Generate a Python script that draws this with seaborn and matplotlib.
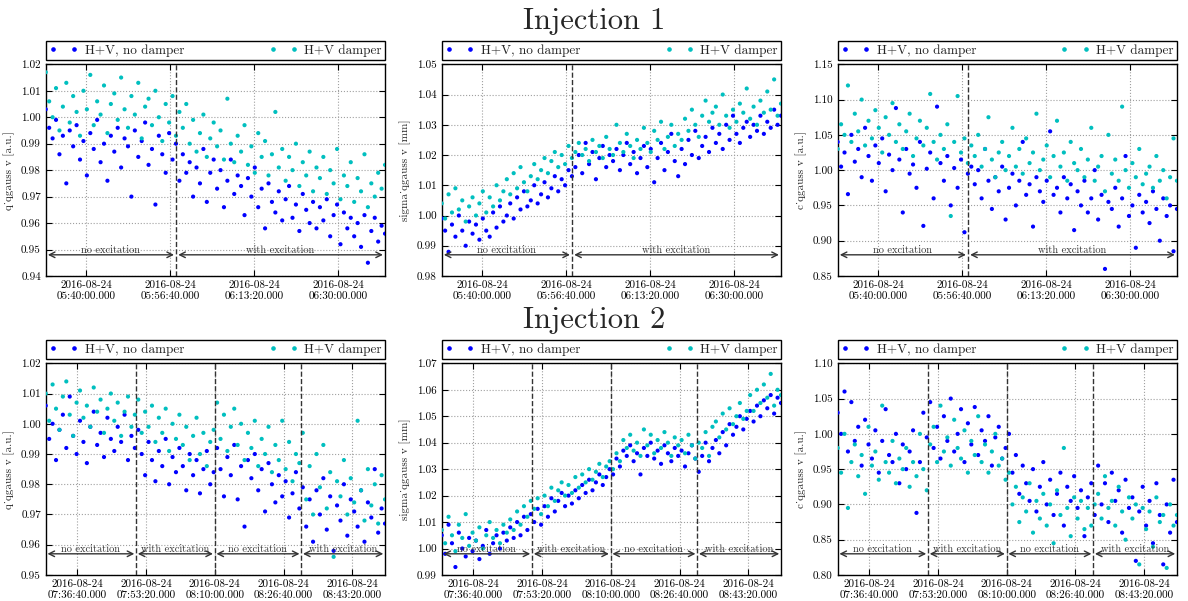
import numpy as np
import pandas as pd
import matplotlib
matplotlib.use("Agg")
import matplotlib.pyplot as plt
import matplotlib.dates as mdates
from matplotlib.lines import Line2D
import seaborn as sns

# ---------------------------------------------------------------------------
# Data: fitted q-Gaussian parameters of the vertical profile (values in 1e-3)
# ---------------------------------------------------------------------------
LABEL_ND = "H+V, no damper"
LABEL_D = "H+V damper"

inj1_start, inj1_end = "2016-08-24 05:32:01", "2016-08-24 06:39:15"
inj2_start, inj2_end = "2016-08-24 07:29:00", "2016-08-24 08:51:16"

inj1_ticks = ["2016-08-24 05:40:00", "2016-08-24 05:56:40",
              "2016-08-24 06:13:20", "2016-08-24 06:30:00"]
inj2_ticks = ["2016-08-24 07:36:40", "2016-08-24 07:53:20", "2016-08-24 08:10:00",
              "2016-08-24 08:26:40", "2016-08-24 08:43:20"]

inj1_switch = ["2016-08-24 05:57:51"]
inj2_switch = ["2016-08-24 07:50:54", "2016-08-24 08:09:58", "2016-08-24 08:30:57"]
inj1_phases = ["no excitation", "with excitation"]
inj2_phases = ["no excitation", "with excitation", "no excitation", "with excitation"]

q1_nodamp = [1003, 996, 992, 999, 986, 993, 975, 995, 989, 997,
             984, 991, 978, 994, 988, 999, 983, 990, 976, 993,
             987, 996, 981, 992, 989, 970, 995, 985, 991, 998,
             982, 988, 967, 993, 986, 979, 994, 984, 990, 976,
             986, 979, 983, 970, 981, 975, 988, 968, 979, 984,
             973, 980, 966, 976, 984, 971, 978, 974, 963, 977,
             970, 981, 966, 973, 958, 975, 968, 964, 972, 961,
             969, 974, 962, 967, 957, 971, 965, 960, 968, 958,
             966, 961, 969, 955, 963, 967, 952, 964, 958, 962,
             955, 960, 951, 963, 945, 957, 962, 953, 959, 956]
q1_damp = [1017, 1006, 1000, 1011, 995, 1004, 1013, 998, 1008, 1002,
           993, 1010, 1003, 1016, 997, 1006, 1001, 1012, 994, 1005,
           1009, 999, 1015, 1003, 996, 1008, 1001, 1013, 992, 1004,
           1007, 997, 1010, 1000, 991, 1005, 998, 1008, 993, 1002,
           996, 1005, 990, 999, 987, 994, 1001, 985, 992, 998,
           989, 995, 984, 1007, 990, 983, 993, 987, 997, 982,
           989, 979, 994, 985, 991, 978, 986, 1002, 981, 988,
           976, 985, 980, 990, 974, 983, 978, 987, 972, 981,
           977, 985, 971, 980, 975, 988, 969, 978, 974, 983,
           968, 977, 972, 986, 966, 975, 970, 979, 973, 982]

s1_nodamp = [999, 995, 988, 997, 993, 1000, 995, 990, 998, 994,
             997, 992, 999, 995, 993, 1001, 996, 1003, 998, 1000,
             1004, 999, 1006, 1002, 1008, 1003, 1005, 1010, 1004, 1007,
             1011, 1006, 1009, 1013, 1008, 1012, 1010, 1015, 1013, 1016,
             1020, 1014, 1024, 1017, 1021, 1012, 1019, 1023, 1016, 1020,
             1018, 1022, 1015, 1020, 1024, 1017, 1021, 1014, 1019, 1023,
             1016, 1022, 1011, 1019, 1024, 1015, 1021, 1027, 1018, 1013,
             1022, 1017, 1025, 1020, 1028, 1019, 1023, 1026, 1021, 1029,
             1024, 1027, 1022, 1030, 1025, 1033, 1027, 1024, 1029, 1031,
             1026, 1030, 1028, 1033, 1027, 1031, 1029, 1035, 1030, 1033]
s1_damp = [1004, 999, 1007, 1001, 1009, 1002, 1005, 998, 1003, 1006,
           1000, 1004, 1008, 1001, 1006, 1003, 1010, 1005, 1008, 1012,
           1007, 1014, 1009, 1016, 1011, 1008, 1013, 1017, 1012, 1015,
           1019, 1014, 1018, 1021, 1016, 1020, 1017, 1023, 1019, 1021,
           1024, 1020, 1022, 1018, 1025, 1021, 1023, 1019, 1026, 1022,
           1020, 1030, 1024, 1021, 1027, 1023, 1019, 1025, 1022, 1029,
           1024, 1021, 1028, 1025, 1031, 1022, 1026, 1030, 1023, 1027,
           1025, 1032, 1028, 1035, 1030, 1026, 1033, 1038, 1031, 1034,
           1036, 1030, 1040, 1033, 1029, 1035, 1031, 1037, 1034, 1042,
           1032, 1036, 1030, 1038, 1034, 1041, 1035, 1045, 1033, 1037]

c1_nodamp = [1040, 1005, 1025, 966, 1050, 1012, 1030, 990, 1060, 1020,
             985, 1035, 1010, 1045, 970, 1022, 1000, 1088, 1015, 940,
             1030, 995, 1008, 975, 1040, 921, 1002, 1025, 960, 1090,
             1010, 985, 1020, 950, 1003, 975, 1015, 912, 995, 1005,
             980, 1000, 960, 1030, 985, 945, 990, 970, 1005, 930,
             975, 995, 950, 985, 1040, 965, 980, 920, 990, 970,
             955, 985, 1055, 965, 975, 940, 990, 960, 980, 915,
             970, 950, 985, 940, 960, 1000, 930, 965, 860, 955,
             945, 975, 920, 960, 1020, 935, 950, 890, 965, 940,
             955, 925, 970, 945, 900, 960, 935, 950, 885, 945]
c1_damp = [1030, 1065, 1050, 1120, 1040, 1080, 1055, 1100, 1035, 1070,
           1045, 1085, 1060, 1025, 1075, 1050, 1095, 1040, 1065, 1030,
           1055, 1080, 1020, 1045, 1070, 1035, 1060, 1108, 1040, 1015,
           1050, 1030, 1065, 935, 1040, 1105, 1025, 1045, 1010, 1035,
           1020, 1050, 1005, 1030, 1075, 1015, 990, 1025, 1040, 1000,
           1020, 1060, 1005, 1030, 995, 1045, 1010, 1025, 1080, 1000,
           1015, 1035, 990, 1020, 1070, 1005, 1025, 985, 1040, 1010,
           1000, 1030, 990, 1015, 1060, 985, 1005, 1020, 970, 1050,
           995, 1015, 985, 1090, 1000, 975, 1010, 990, 1030, 980,
           995, 1005, 975, 1020, 985, 1000, 960, 990, 1045, 985]

q2_nodamp = [1006, 995, 1000, 988, 998, 1003, 992, 1009, 996, 990,
             1001, 994, 987, 999, 1004, 993, 997, 989, 1002, 995,
             991, 999, 994, 1003, 988, 996, 992, 998, 990, 983,
             994, 988, 981, 991, 986, 995, 980, 989, 984, 992,
             986, 978, 990, 983, 988, 977, 985, 991, 980, 984,
             992, 985, 976, 989, 983, 993, 975, 986, 966, 988,
             982, 990, 978, 985, 971, 987, 980, 974, 983, 976,
             981, 969, 977, 984, 972, 979, 966, 975, 961, 978,
             970, 982, 965, 976, 958, 973, 968, 980, 963, 975,
             971, 966, 978, 961, 974, 969, 985, 964, 972, 967]
q2_damp = [1010, 1001, 1013, 1005, 998, 1009, 1014, 1003, 996, 1007,
           1011, 1002, 1006, 999, 1012, 1004, 1008, 997, 1005, 1010,
           1001, 1007, 996, 1004, 1009, 999, 1003, 1008, 997, 1004,
           999, 1006, 994, 1002, 997, 1005, 991, 1000, 995, 1003,
           993, 999, 988, 996, 1002, 990, 997, 986, 994, 998,
           1007, 995, 1003, 991, 999, 1005, 993, 1000, 988, 997,
           992, 1001, 986, 995, 990, 999, 984, 993, 988, 1001,
           985, 994, 981, 990, 987, 997, 975, 986, 970, 990,
           979, 993, 972, 984, 956, 981, 976, 988, 970, 982,
           974, 1001, 978, 968, 985, 973, 980, 967, 983, 975]

s2_nodamp = [1005, 998, 1009, 1002, 993, 1006, 1000, 997, 1004, 999,
             1003, 996, 1001, 1007, 998, 1002, 1005, 1000, 1006, 1003,
             1008, 1004, 1010, 1005, 1012, 1007, 1013, 1010, 1015, 1009,
             1016, 1012, 1019, 1014, 1018, 1021, 1016, 1020, 1017, 1022,
             1019, 1024, 1021, 1026, 1022, 1025, 1028, 1024, 1027, 1030,
             1028, 1034, 1031, 1037, 1035, 1039, 1033, 1036, 1028, 1038,
             1035, 1040, 1034, 1037, 1032, 1039, 1036, 1033, 1038, 1035,
             1037, 1031, 1036, 1039, 1034, 1029, 1035, 1040, 1033, 1038,
             1041, 1036, 1044, 1039, 1047, 1043, 1046, 1050, 1045, 1049,
             1052, 1048, 1054, 1050, 1056, 1053, 1058, 1051, 1057, 1055]
s2_damp = [1007, 1002, 1012, 1005, 999, 1009, 1004, 1013, 1001, 1006,
           1003, 1008, 1000, 1005, 1010, 1004, 1007, 1002, 1009, 1006,
           1011, 1007, 1014, 1009, 1016, 1012, 1018, 1015, 1019, 1013,
           1020, 1016, 1023, 1018, 1022, 1025, 1020, 1024, 1021, 1027,
           1023, 1028, 1025, 1030, 1026, 1029, 1032, 1027, 1031, 1033,
           1030, 1036, 1033, 1041, 1038, 1043, 1037, 1040, 1035, 1045,
           1039, 1043, 1036, 1041, 1038, 1044, 1040, 1035, 1042, 1039,
           1041, 1036, 1043, 1039, 1034, 1040, 1038, 1044, 1035, 1046,
           1048, 1042, 1051, 1045, 1053, 1047, 1050, 1055, 1049, 1052,
           1058, 1052, 1060, 1055, 1062, 1057, 1066, 1054, 1060, 1058]

c2_nodamp = [1030, 1000, 1060, 975, 1045, 990, 1010, 955, 1020, 985,
             965, 1005, 945, 990, 1035, 970, 960, 1000, 930, 985,
             950, 975, 1005, 888, 960, 1030, 995, 1045, 980, 1010,
             965, 1025, 990, 1050, 975, 1000, 1035, 960, 1015, 985,
             1038, 970, 1005, 990, 1025, 955, 995, 1010, 965, 980,
             1000, 945, 970, 915, 955, 930, 905, 950, 890, 925,
             960, 900, 935, 885, 915, 945, 870, 925, 905, 940,
             895, 920, 855, 910, 930, 885, 955, 900, 930, 875,
             945, 905, 920, 860, 935, 895, 910, 820, 890, 925,
             870, 905, 845, 930, 885, 815, 900, 860, 935, 875]
c2_damp = [980, 945, 1000, 895, 960, 985, 940, 970, 915, 1010,
           955, 975, 935, 1040, 960, 945, 990, 930, 965, 950,
           980, 925, 960, 940, 1000, 950, 920, 985, 1010, 960,
           1040, 975, 995, 955, 1020, 980, 965, 1005, 945, 990,
           970, 1025, 960, 985, 945, 975, 1000, 955, 965, 935,
           945, 900, 925, 875, 910, 890, 930, 860, 905, 880,
           915, 870, 900, 845, 920, 885, 980, 895, 855, 910,
           880, 905, 865, 895, 870, 900, 915, 880, 940, 895,
           905, 870, 925, 890, 850, 910, 880, 900, 815, 895,
           865, 890, 840, 910, 875, 885, 810, 900, 870, 885]

ylabels = ["q_qgauss v [a.u.]", "sigma_qgauss v [mm]", "c_qgauss v [a.u.]"]
inj1_ylims = [(0.94, 1.02), (0.98, 1.05), (0.85, 1.15)]
inj2_ylims = [(0.95, 1.02), (0.99, 1.07), (0.80, 1.10)]
ystep = [0.01, 0.01, 0.05]

# ---------------------------------------------------------------------------
# Style
# ---------------------------------------------------------------------------
sns.set_style("ticks")
plt.rcParams["font.family"] = ["cmr10", "DejaVu Serif"]
plt.rcParams["axes.formatter.use_mathtext"] = True
plt.rcParams["axes.unicode_minus"] = False

COL_ND = "#0000ff"
COL_D = "#00bfbf"
palette = {LABEL_ND: COL_ND, LABEL_D: COL_D}

fig = plt.figure(figsize=(11.88, 6.01), dpi=100)

col_left = [0.0385, 0.3718, 0.7051]
ax_w, ax_h = 0.2856, 0.3522
row_bottom = [0.5408, 0.0433]


def frame(series_nd, series_d, start, end):
    t_nd = pd.date_range(start, end, periods=len(series_nd))
    t_d = pd.date_range(start, end, periods=len(series_d))
    a = pd.DataFrame({"time": t_nd, "value": np.asarray(series_nd) / 1000.0,
                      "beam": LABEL_ND})
    b = pd.DataFrame({"time": t_d, "value": np.asarray(series_d) / 1000.0,
                      "beam": LABEL_D})
    return pd.concat([a, b], ignore_index=True)


def draw_panel(ax, df, start, end, ticks, switches, phases, ylim, step, ylabel):
    sns.scatterplot(data=df, x="time", y="value", hue="beam", palette=palette,
                    s=9, linewidth=0, ax=ax, legend=False, zorder=3)
    x0, x1 = pd.Timestamp(start), pd.Timestamp(end)
    ax.set_xlim(x0, x1)
    ax.set_ylim(*ylim)
    ax.set_yticks(np.arange(ylim[0], ylim[1] + step / 2, step))
    ax.yaxis.set_major_formatter(matplotlib.ticker.FormatStrFormatter("%.2f"))
    ax.set_xticks([pd.Timestamp(t) for t in ticks])
    ax.xaxis.set_major_formatter(mdates.DateFormatter("%Y-%m-%d\n%H:%M:%S.000"))
    ax.set_xlabel("")
    ax.set_ylabel(ylabel, fontsize=8)
    ax.tick_params(direction="in", top=True, right=True, length=4, width=0.8,
                   labelsize=8, colors="black")
    ax.grid(True, ls=":", color="#a0a0a0", lw=0.8, zorder=0)
    for sp in ax.spines.values():
        sp.set_color("black")
        sp.set_linewidth(1.0)

    sw = [pd.Timestamp(s) for s in switches]
    for s in sw:
        ax.axvline(s, color="#333333", ls="--", lw=1.0, zorder=4)

    # phase arrows at 10 % of the axis height
    y_arr = ylim[0] + 0.1 * (ylim[1] - ylim[0])
    bounds = [x0] + sw + [x1]
    pad = pd.Timedelta(seconds=25)
    for i, name in enumerate(phases):
        a, b = bounds[i] + pad, bounds[i + 1] - pad
        ax.annotate("", xy=(b, y_arr), xytext=(a, y_arr),
                    arrowprops=dict(arrowstyle="<->", color="#333333", lw=1.0,
                                    shrinkA=0, shrinkB=0), zorder=5)
        ax.text(a + (b - a) / 2, y_arr, name, ha="center", va="bottom",
                fontsize=7.5, color="#333333", zorder=5)

    handles = [Line2D([], [], ls="none", marker="o", ms=2.3, color=COL_ND),
               Line2D([], [], ls="none", marker="o", ms=2.3, color=COL_D)]
    leg = ax.legend(handles, [LABEL_ND, LABEL_D], loc="lower left",
                    bbox_to_anchor=(0, 1.02, 1, 0.08), mode="expand", ncol=2,
                    numpoints=2, handlelength=2.2, borderaxespad=0,
                    fontsize=9.5, frameon=True, fancybox=False,
                    borderpad=0.25, handletextpad=0.5)
    leg.get_frame().set_edgecolor("black")
    leg.get_frame().set_linewidth(1.0)
    leg.get_frame().set_alpha(1)


rows = [
    dict(series=[(q1_nodamp, q1_damp), (s1_nodamp, s1_damp), (c1_nodamp, c1_damp)],
         start=inj1_start, end=inj1_end, ticks=inj1_ticks, switches=inj1_switch,
         phases=inj1_phases, ylims=inj1_ylims),
    dict(series=[(q2_nodamp, q2_damp), (s2_nodamp, s2_damp), (c2_nodamp, c2_damp)],
         start=inj2_start, end=inj2_end, ticks=inj2_ticks, switches=inj2_switch,
         phases=inj2_phases, ylims=inj2_ylims),
]

for r, row in enumerate(rows):
    for c in range(3):
        ax = fig.add_axes([col_left[c], row_bottom[r], ax_w, ax_h])
        nd, d = row["series"][c]
        df = frame(nd, d, row["start"], row["end"])
        draw_panel(ax, df, row["start"], row["end"], row["ticks"],
                   row["switches"], row["phases"], row["ylims"][c],
                   ystep[c], ylabels[c])

fig.text(0.5, 0.952, "Injection 1", ha="center", va="baseline", fontsize=22)
fig.text(0.5, 0.454, "Injection 2", ha="center", va="baseline", fontsize=22)

fig.savefig("out.png", dpi=100, facecolor="white")
